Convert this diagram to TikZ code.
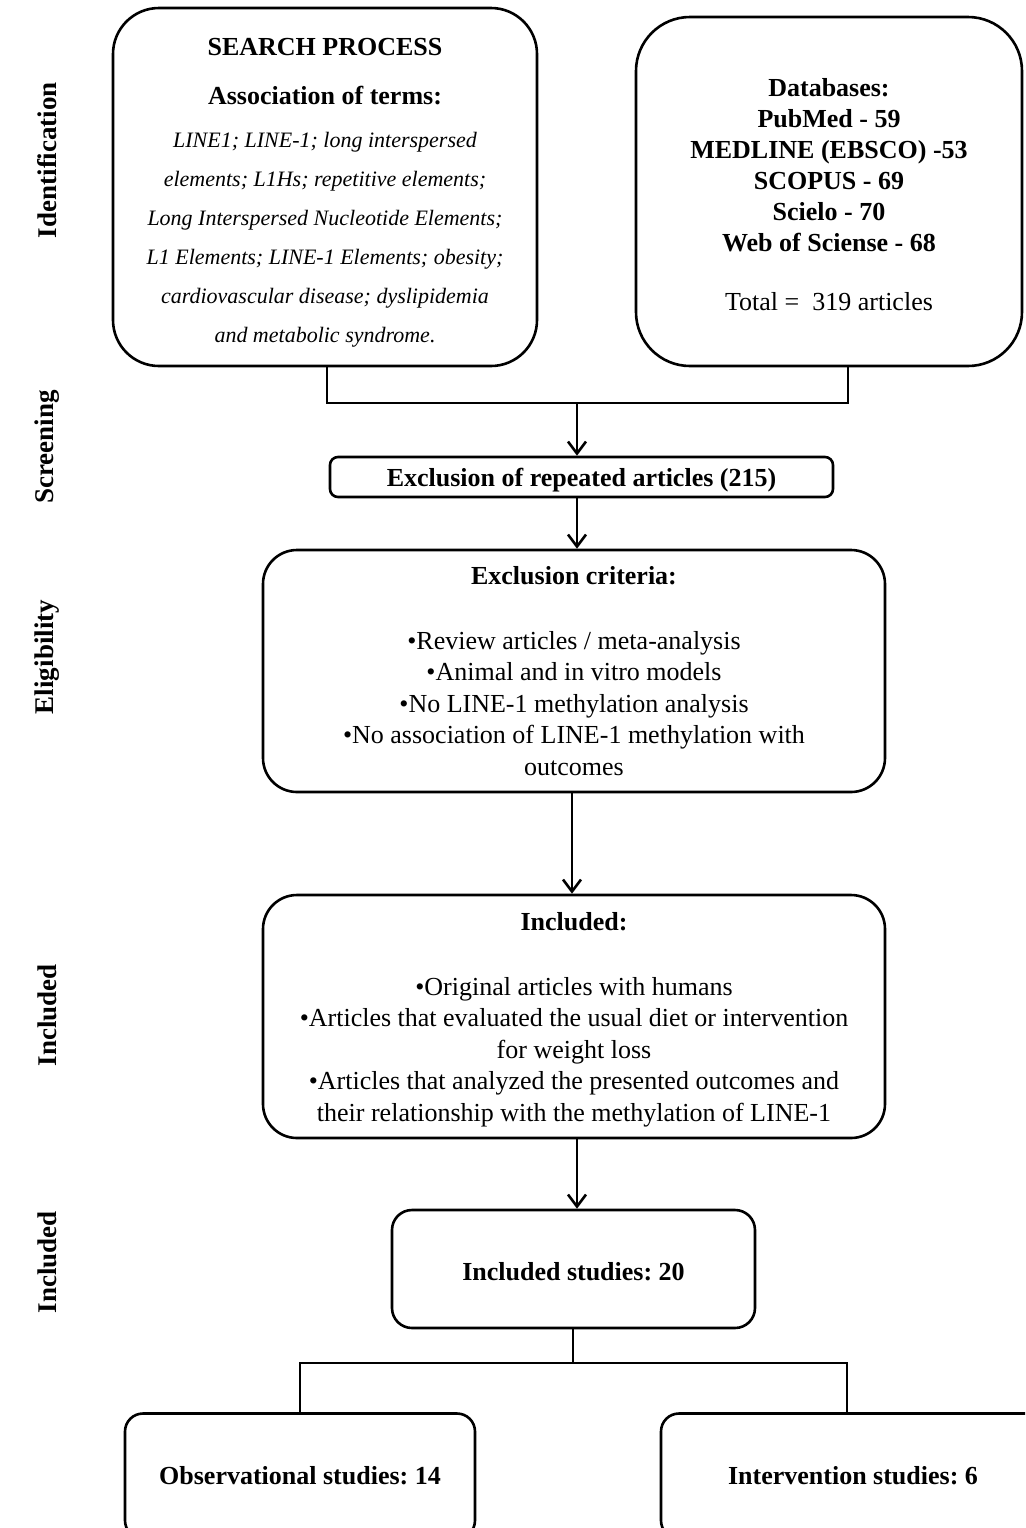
\documentclass[tikz,border=0pt]{standalone}
\usepackage{fontspec}
\setmainfont{Liberation Serif}
\frenchspacing
\usetikzlibrary{arrows.meta}
\begin{document}
\begin{tikzpicture}[x=0.5pt,y=-0.5pt,
  box/.style={draw, line width=1.3pt, align=center, inner sep=0pt, font=\fontsize{13}{15.75}\selectfont},
  txt/.style={align=center, inner sep=0pt, font=\fontsize{13}{15.75}\selectfont},
  conn/.style={line width=1.3pt},
  arr/.style={line width=1.3pt, -{Straight Barb[length=6pt,width=9pt,line width=1.3pt]}},
  side/.style={rotate=90, font=\bfseries\fontsize{13.5}{15.75}\selectfont}]
\clip (0,0) rectangle (1025,1528);
\useasboundingbox (0,0) rectangle (1025,1528);

% side labels
\node[side] (l1) at (47,160) {Identification};
\node[side] (l2) at (47,447) {Screening};
\node[side] (l3) at (47,657) {Eligibility};
\node[side] (l4) at (47,1015) {Included};
\node[side] (l5) at (47,1262) {Included};

% boxes
\node[box, minimum width=212pt, minimum height=179pt, rounded corners=23pt] (search) at (325,187) {};
\node[txt, font=\fontsize{11}{19.5}\selectfont\itshape] (searchtxt) at ([yshift=-3pt]search.center)
 {{\upshape\bfseries\fontsize{13}{19.5}\selectfont SEARCH PROCESS}\\[5pt]
  {\upshape\bfseries\fontsize{13}{19.5}\selectfont Association of terms:}\\[2pt]
  LINE1; LINE-1; long interspersed\\
  elements; L1Hs; repetitive elements;\\
  Long Interspersed Nucleotide Elements;\\
  L1 Elements; LINE-1 Elements; obesity;\\
  cardiovascular disease; dyslipidemia\\
  and metabolic syndrome.};

\node[box, minimum width=193pt, minimum height=174.5pt, rounded corners=27pt] (db) at (829,191.5) {};
\node[txt, font=\fontsize{13}{15.5}\selectfont] (dbtxt) at ([yshift=-1.5pt]db.center)
 {\textbf{Databases:}\\
  \textbf{PubMed - 59}\\
  \textbf{MEDLINE (EBSCO) -53}\\
  \textbf{SCOPUS - 69}\\
  \textbf{Scielo - 70}\\
  \textbf{Web of Sciense - 68}\\[14pt]
  Total =\ \ 319 articles};

\node[box, minimum width=251.5pt, minimum height=20pt, rounded corners=4pt] (rep) at (581.5,477) {};
\node[txt] (reptxt) at ([yshift=-1.5pt]rep.center) {\textbf{Exclusion of repeated articles (215)}};

\node[box, minimum width=311pt, minimum height=121pt, rounded corners=17pt] (excl) at (574,671)
 {\textbf{Exclusion criteria:}\\[16.75pt]
  •Review articles / meta-analysis\\
  •Animal and in vitro models\\
  •No LINE-1 methylation analysis\\
  •No association of LINE-1 methylation with\\
  outcomes};

\node[box, minimum width=311pt, minimum height=121.5pt, rounded corners=17pt] (incl) at (574,1016.5) {};
\node[txt] (incltxt) at ([yshift=-1.5pt]incl.center)
 {\textbf{Included:}\\[16.75pt]
  •Original articles with humans\\
  •Articles that evaluated the usual diet or intervention\\
  for weight loss\\
  •Articles that analyzed the presented outcomes and\\
  their relationship with the methylation of LINE-1};

\node[box, minimum width=181.5pt, minimum height=59pt, rounded corners=10pt] (studies) at (573.5,1269) {};
\node[txt] (studtxt) at ([yshift=-1.5pt]studies.center) {\textbf{Included studies: 20}};

\node[box, minimum width=175pt, minimum height=62.5pt, rounded corners=9pt] (obs) at (300,1476)
 {\textbf{Observational studies: 14}};

\node[box, minimum width=192pt, minimum height=62.5pt, rounded corners=9pt] (intv) at (853,1476)
 {\textbf{Intervention studies: 6}};

% connectors
\coordinate (jl) at (327,403);
\coordinate (jr) at (848,403);
\coordinate (jm) at (577,403);
\coordinate (ax) at (572,800);
\draw[conn] (search.south -| jl) -- (jl) -- (jr) -- (db.south -| jr);
\draw[arr] (jm) -- (rep.north -| jm);
\draw[arr] (rep.south -| jm) -- (excl.north -| jm);
\draw[arr] (excl.south -| ax) -- (incl.north -| ax);
\draw[arr] (incl.south -| jm) -- (studies.north -| jm);

\coordinate (kl) at (300,1363);
\coordinate (kr) at (847,1363);
\coordinate (km) at (573,1363);
\draw[conn] (studies.south -| km) -- (km);
\draw[conn] (obs.north -| kl) -- (kl) -- (kr) -- (intv.north -| kr);
\end{tikzpicture}
\end{document}
